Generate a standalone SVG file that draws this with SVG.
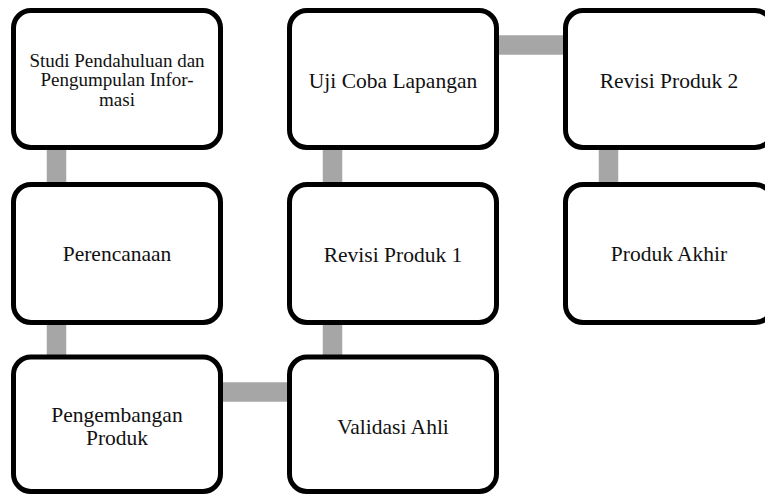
<svg xmlns="http://www.w3.org/2000/svg" width="765" height="495" viewBox="0 0 765 495">
<style>
.conn{stroke:#a6a6a6;stroke-width:19.5;fill:none}
.box{fill:#fff;stroke:#000;stroke-width:5}
.t{font-family:"Liberation Serif","DejaVu Serif",serif;font-size:21.5px;fill:#111;text-anchor:middle}
.s{font-size:19px}
</style>
<rect width="765" height="495" fill="#fff"/>
<g id="connectors">
<line class="conn" x1="56.5" y1="140" x2="56.5" y2="195"/>
<line class="conn" x1="56.5" y1="315" x2="56.5" y2="365"/>
<line class="conn" x1="215" y1="392" x2="295" y2="392"/>
<line class="conn" x1="332.5" y1="365" x2="332.5" y2="315"/>
<line class="conn" x1="332.5" y1="195" x2="332.5" y2="140"/>
<line class="conn" x1="490" y1="45" x2="570" y2="45"/>
<line class="conn" x1="608.5" y1="140" x2="608.5" y2="195"/>
</g>
<g id="n1"><rect class="box" x="13.5" y="10.5" width="207" height="137" rx="17.5"/>
<text class="t s" x="117" y="66.5">Studi Pendahuluan dan</text>
<text class="t s" x="117" y="86">Pengumpulan Infor-</text>
<text class="t s" x="117" y="106">masi</text></g>
<g id="n2"><rect class="box" x="13.5" y="184.5" width="207" height="138" rx="17.5"/>
<text class="t" x="117" y="261">Perencanaan</text></g>
<g id="n3"><rect class="box" x="13.5" y="357" width="207" height="134.5" rx="17.5"/>
<text class="t" x="117" y="421.5">Pengembangan</text>
<text class="t" x="117" y="445">Produk</text></g>
<g id="n4"><rect class="box" x="289.5" y="357" width="207" height="134.5" rx="17.5"/>
<text class="t" x="393" y="433.5">Validasi Ahli</text></g>
<g id="n5"><rect class="box" x="289.5" y="184.5" width="207" height="138" rx="17.5"/>
<text class="t" x="393" y="261.5">Revisi Produk 1</text></g>
<g id="n6"><rect class="box" x="289.5" y="10.5" width="207" height="137" rx="17.5"/>
<text class="t" x="393" y="88">Uji Coba Lapangan</text></g>
<g id="n7"><rect class="box" x="565.5" y="10.5" width="207" height="137" rx="17.5"/>
<text class="t" x="669" y="88">Revisi Produk 2</text></g>
<g id="n8"><rect class="box" x="565.5" y="184.5" width="207" height="138" rx="17.5"/>
<text class="t" x="669" y="261">Produk Akhir</text></g>
</svg>
